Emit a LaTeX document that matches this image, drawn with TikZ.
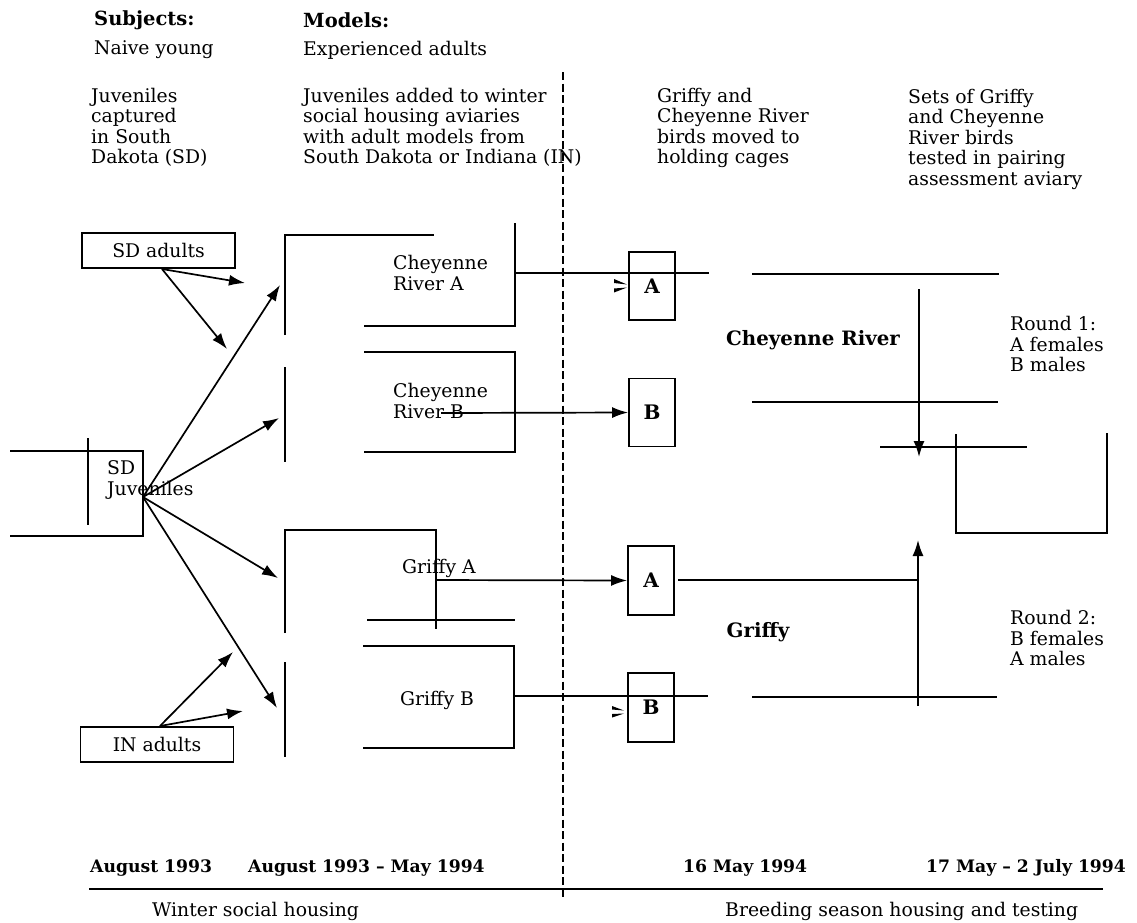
\documentclass[tikz,border=0pt]{standalone}
\usepackage{fontspec}
\setmainfont{DejaVu Serif}
\usetikzlibrary{arrows.meta}
\begin{document}
\begin{tikzpicture}[x=1pt,y=-1pt,
  txt/.style={inner sep=0pt, align=left, anchor=west, font=\fontsize{18.8}{20.5}\selectfont},
  htxt/.style={inner sep=0pt, align=left, anchor=west, font=\fontsize{19.5}{20.5}\selectfont\bfseries},
  btxt/.style={inner sep=0pt, align=left, anchor=west, font=\fontsize{17.2}{20.5}\selectfont\bfseries},
  ctxt/.style={inner sep=0pt, font=\fontsize{19.8}{20.5}\selectfont\bfseries},
  wall/.style={line width=2pt},
  thin/.style={line width=1.6pt},
  arr/.style={line width=1.7pt, -{Latex[length=16pt,width=11pt]}},
  cage/.style={draw, line width=1.8pt, minimum width=46pt, minimum height=68pt, inner sep=0pt, font=\fontsize{20}{20}\selectfont\bfseries},
  adbox/.style={draw, line width=1.8pt, minimum width=153pt, minimum height=35pt, inner sep=0pt, font=\fontsize{18.8}{20}\selectfont},
  barb/.style={fill=black}]
\useasboundingbox (0,0) rectangle (1137,922);
\fill[white] (0,0) rectangle (1137,922);

% headers
\node[htxt] (hsub) at (94,20) {Subjects:};
\node[htxt] (hmod) at (303,20) {Models:};
\node[txt] (hnaive) at (94,50) {Naive young};
\node[txt] (hexp) at (303,50) {Experienced adults};
\node[txt] (c1) at (91,127.5) {Juveniles\\captured\\in South\\Dakota (SD)};
\node[txt] (c2) at (303,127.5) {Juveniles added to winter\\social housing aviaries\\with adult models from\\South Dakota or Indiana (IN)};
\node[txt] (c3) at (657,128) {Griffy and\\Cheyenne River\\birds moved to\\holding cages};
\node[txt] (c4) at (908,139) {Sets of Griffy\\and Cheyenne\\River birds\\tested in pairing\\assessment aviary};

% dashed divider
\coordinate (dtop) at (563,72);
\coordinate (dbot) at (563,897);
\draw[line width=1.1pt, dash pattern=on 8pt off 3.5pt] (dtop) -- (dbot);

% adults boxes
\node[adbox] (sda) at (158.5,250.5) {SD adults};
\node[adbox] (ina) at (157,744.5) {IN adults};

% SD juveniles
\draw[wall] (10,451) -- (143,451) -- (143,536) -- (10,536);
\draw[thin] (88,438) -- (88,525);
\node[txt] (sdj) at (107,480) {SD\\Juveniles};
\coordinate (J) at (143,497);

% Cheyenne River A
\draw[wall] (285,335) -- (285,235) -- (434,235);
\draw[wall] (364,326) -- (515,326) -- (515,223);
\node[txt] (cra) at (393,273) {Cheyenne\\River A};
% Cheyenne River B
\draw[wall] (364,352) -- (515,352) -- (515,452) -- (364,452);
\draw[wall] (285,367) -- (285,462);
\node[txt] (crb) at (393,401) {Cheyenne\\River B};
% Griffy A
\draw[wall] (285,633) -- (285,530) -- (436,530) -- (436,629);
\draw[wall] (367,620) -- (515,620);
\node[txt] (gra) at (402,568) {Griffy A};
% Griffy B
\draw[wall] (363,646) -- (514,646) -- (514,748) -- (363,748);
\draw[wall] (285,662) -- (285,757);
\node[txt] (grb) at (400,700) {Griffy B};

% arrows from juveniles
\coordinate (t1) at (280,285);
\coordinate (t2) at (279,418);
\coordinate (t3) at (278,578);
\coordinate (t4) at (277,708);
\draw[arr] (J) -- (t1);
\draw[arr] (J) -- (t2);
\draw[arr] (J) -- (t3);
\draw[arr] (J) -- (t4);
% arrows from adults
\coordinate (sdo) at (162,269);
\coordinate (s1) at (245,283);
\coordinate (s2) at (227,349);
\draw[arr] (sdo) -- (s1);
\draw[arr] (sdo) -- (s2);
\coordinate (ino) at (160,726);
\coordinate (i1) at (233,652);
\coordinate (i2) at (243,711);
\draw[arr] (ino) -- (i1);
\draw[arr] (ino) -- (i2);

% holding cages
\node[cage] (ha) at (652,286) {A};
\node[cage] (hb) at (652,412.5) {B};
\node[cage, minimum height=69pt] (ga) at (651,580.5) {A};
\node[cage, minimum height=69pt] (gb) at (651,707.5) {B};

% connectors to cages
\coordinate (craR) at (515,273);
\coordinate (craE) at (709,273);
\draw[wall] (craR) -- (craE);
\fill[barb] (614,279) -- (627,284.5) -- (614,283) -- cycle;
\fill[barb] (614,288.5) -- (627,287.5) -- (614,292.5) -- cycle;
\coordinate (crbS) at (441,413);
\draw[arr] (crbS) -- (hb.west);
\coordinate (graS) at (436,580);
\draw[arr] (graS) -- (ga.west);
\coordinate (grbR) at (514,696);
\coordinate (grbE) at (708,696);
\draw[wall] (grbR) -- (grbE);
\fill[barb] (612,706) -- (624,710.5) -- (612,709.5) -- cycle;
\fill[barb] (612,714) -- (624,713.5) -- (612,717.5) -- cycle;

% right side: Cheyenne River enclosure
\draw[wall] (752,274) -- (999,274);
\draw[wall] (752,402) -- (998,402);
\node[ctxt] (crl) at (813,340) {Cheyenne River};
\coordinate (dv) at (919,289);
\coordinate (dvt) at (919,457);
\draw[arr] (dv) -- (dvt);
\draw[wall] (880,447) -- (1027,447);
% pairing box
\draw[wall] (956,434) -- (956,533) -- (1107,533) -- (1107,433);
% Griffy enclosure
\coordinate (gaR) at (678,580);
\coordinate (gaE) at (918,580);
\draw[wall] (gaR) -- (gaE);
\draw[wall] (752,697) -- (997,697);
\node[ctxt] (gl) at (758,632) {Griffy};
\coordinate (uv) at (918,706);
\coordinate (uvt) at (918,540);
\draw[arr] (uv) -- (uvt);

\node[txt] (r1) at (1010,344) {Round 1:\\A females\\B males};
\node[txt] (r2) at (1010,638) {Round 2:\\B females\\A males};

% timeline
\node[btxt] (d1) at (90,868) {August 1993};
\node[btxt] (d2) at (248,868) {August 1993 -- May 1994};
\node[btxt] (d3) at (683,868) {16 May 1994};
\node[btxt] (d4) at (926,868) {17 May -- 2 July 1994};
\coordinate (tl0) at (89,889);
\coordinate (tl1) at (1103,889);
\draw[wall] (tl0) -- (tl1);
\node[txt] (w1) at (152,911) {Winter social housing};
\node[txt] (w2) at (725,911) {Breeding season housing and testing};
\end{tikzpicture}
\end{document}
